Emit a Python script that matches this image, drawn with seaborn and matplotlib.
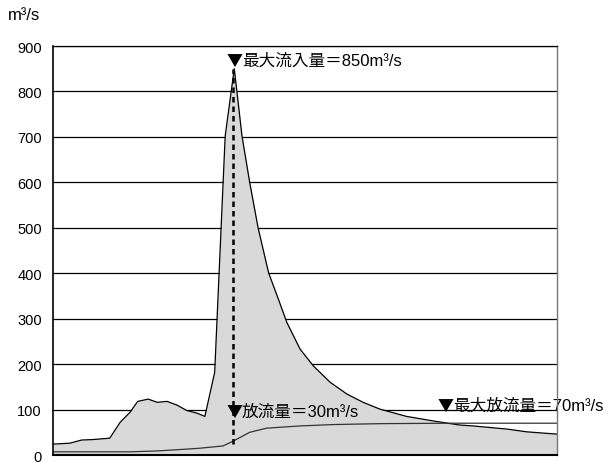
import numpy as np
import pandas as pd
import matplotlib
matplotlib.use('Agg')
import matplotlib.pyplot as plt
import seaborn as sns

# 時間 (h) と流入量・放流量 (m3/s)
t_in = [0, 2.4, 4.1, 5.7, 8.1, 9.6, 11.0, 12.1, 13.6, 14.9, 16.3, 17.7, 19.1, 20.6,
        21.7, 23.1, 24.6, 25.9, 27.0, 28.1, 29.3, 30.8, 32.2, 33.4, 35.3, 37.2,
        39.6, 42.0, 44.3, 46.7, 50.5, 54.3, 58.1, 60.0, 64.9, 67.7, 72.0]
inflow = [24, 26, 33, 34, 37, 72, 94, 118, 123, 116, 118, 110, 98, 92,
          85, 182, 702, 850, 702, 600, 500, 401, 343, 292, 233, 196,
          160, 134, 116, 101, 85, 75, 66, 64, 57, 51, 46]

t_out = [0, 11.0, 14.9, 19.1, 21.0, 24.3, 25.8, 28.1, 30.5, 35.3, 40.0, 46.7, 56.7, 72.0]
outflow = [7, 7, 9, 13, 15, 20, 31, 50, 59, 64, 67, 69, 70, 70]

peak_t = 25.7
peak_q = 850

# 注記 (x, y, 文字)
notes = [(25.9, 868, '最大流入量＝850m³/s'),
         (25.9, 96, '放流量＝30m³/s'),
         (56.1, 110, '最大放流量＝70m³/s')]

yticks = [0, 100, 200, 300, 400, 500, 600, 700, 800, 900]

df_in = pd.DataFrame({'t': t_in, 'q': inflow})
df_out = pd.DataFrame({'t': t_out, 'q': outflow})

sns.set_style('white')
plt.rcParams['font.family'] = ['Liberation Sans', 'Noto Sans CJK JP', 'DejaVu Sans']
plt.rcParams['text.color'] = 'black'
plt.rcParams['ytick.color'] = 'black'
plt.rcParams['ytick.labelcolor'] = 'black'

fig = plt.figure(figsize=(6.09, 4.64), dpi=100)
ax = fig.add_axes([0.087, 0.0172, 0.8276, 0.8815])

ax.fill_between(df_in['t'], 0, df_in['q'], color='#d9d9d9', zorder=1, linewidth=0)
sns.lineplot(data=df_in, x='t', y='q', ax=ax, color='black', linewidth=0.9, zorder=3)
sns.lineplot(data=df_out, x='t', y='q', ax=ax, color='#333333', linewidth=0.9, zorder=3)

# ピーク位置の破線
ax.plot([peak_t, peak_t], [25, peak_q], color='black', linestyle=(0, (2.2, 1.6)),
        linewidth=1.8, zorder=4)

for x, y, label in notes:
    ax.annotate('▼', xy=(x, y), ha='center', va='center', fontsize=11.5,
                family='Noto Sans CJK JP', color='black', zorder=5, annotation_clip=False)
    ax.annotate(label, xy=(x, y), xytext=(5.4, 0), textcoords='offset points',
                ha='left', va='center', fontsize=12, color='black', zorder=5,
                annotation_clip=False)

ax.set_xlim(0, 72)
ax.set_ylim(0, 900)
ax.set_yticks(yticks)
ax.set_xticks([])
ax.set_xlabel('')
ax.set_ylabel('')
ax.yaxis.grid(True, color='black', linewidth=0.9)
ax.set_axisbelow(True)
ax.tick_params(axis='y', length=0, pad=8, labelsize=10.5, labelcolor='black')

ax.spines['left'].set_color('black')
ax.spines['left'].set_linewidth(1.2)
ax.spines['bottom'].set_color('black')
ax.spines['bottom'].set_linewidth(1.5)
ax.spines['top'].set_color('black')
ax.spines['top'].set_linewidth(0.9)
ax.spines['right'].set_color('#777777')
ax.spines['right'].set_linewidth(1.0)
for s in ax.spines.values():
    s.set_zorder(6)

fig.text(8 / 609, 1 - 15 / 464, 'm³/s', fontsize=12, va='center', ha='left')

fig.savefig('out.png', dpi=100)
